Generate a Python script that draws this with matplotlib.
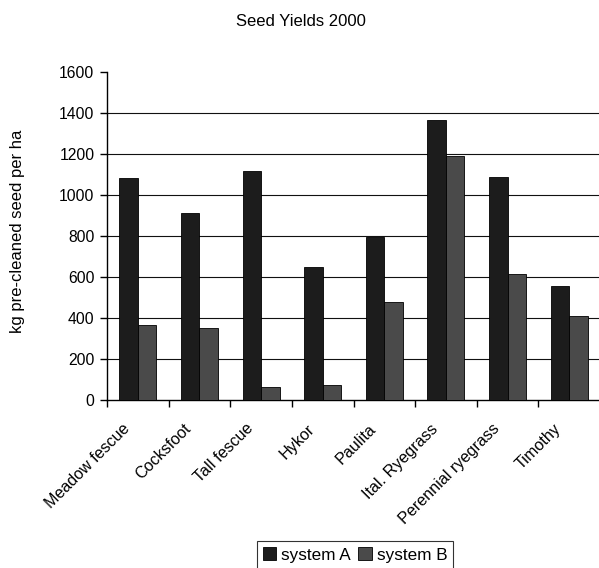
import matplotlib
matplotlib.use("Agg")
import matplotlib.pyplot as plt
import matplotlib.transforms as mtransforms
import numpy as np

categories = ["Meadow fescue", "Cocksfoot", "Tall fescue", "Hykor", "Paulita",
              "Ital. Ryegrass", "Perennial ryegrass", "Timothy"]
system_a = [1082, 913, 1118, 648, 796, 1366, 1087, 555]
system_b = [366, 352, 62, 73, 477, 1188, 617, 409]
yticks = [0, 200, 400, 600, 800, 1000, 1200, 1400, 1600]

plt.rcParams['font.family'] = ['Liberation Sans', 'DejaVu Sans']
plt.rcParams['font.size'] = 11

fig = plt.figure(figsize=(5.99, 5.68), dpi=100)
W, H = 599, 568
ax = fig.add_axes([107 / W, 1 - 400 / H, (600 - 107) / W, (400 - 72) / H])

x = np.arange(len(categories))
bw = 0.30
ax.bar(x - bw / 2, system_a, bw, color="#1c1c1c", edgecolor="black", linewidth=0.6,
       label="system A", zorder=3)
ax.bar(x + bw / 2, system_b, bw, color="#4a4a4a", edgecolor="black", linewidth=0.6,
       label="system B", zorder=3)

ax.set_xlim(-0.5, len(categories) - 0.5)
ax.set_ylim(0, 1600)
ax.set_yticks(yticks)
ax.tick_params(axis="y", labelsize=11.3, length=5, direction="out", width=1, pad=4)
for v in yticks[1:-1]:
    ax.axhline(v, color="#111111", linewidth=0.8, zorder=1)

ax.set_xticks(np.arange(len(categories) + 1) - 0.5)
ax.set_xticklabels([])
ax.tick_params(axis="x", which="major", length=5, direction="out", width=1)

label_tr = ax.get_xaxis_transform() + mtransforms.ScaledTranslation(
    -16 / 100, -21 / 100, fig.dpi_scale_trans)
for xi, name in zip(x, categories):
    ax.text(xi, 0, name, transform=label_tr, rotation=45, ha="right", va="top",
            rotation_mode="anchor", fontsize=11.6, clip_on=False)

for s in ["top", "right"]:
    ax.spines[s].set_visible(False)
ax.spines["left"].set_linewidth(1)
ax.spines["bottom"].set_linewidth(1)

fig.text(18 / W, 1 - 231 / H, "kg pre-cleaned seed per ha", rotation=90,
         ha="center", va="center", fontsize=12)
fig.text(301 / W, 1 - 22 / H, "Seed Yields 2000", ha="center", va="center", fontsize=12)

leg = fig.legend(loc="center", bbox_to_anchor=(355 / W, 1 - 555 / H), ncol=2,
                 frameon=True, fancybox=False, edgecolor="black", handlelength=0.8,
                 handleheight=0.8, handletextpad=0.3, columnspacing=0.4,
                 borderpad=0.35, fontsize=12.3)
leg.get_frame().set_linewidth(0.8)

fig.savefig("out.png", dpi=100)
